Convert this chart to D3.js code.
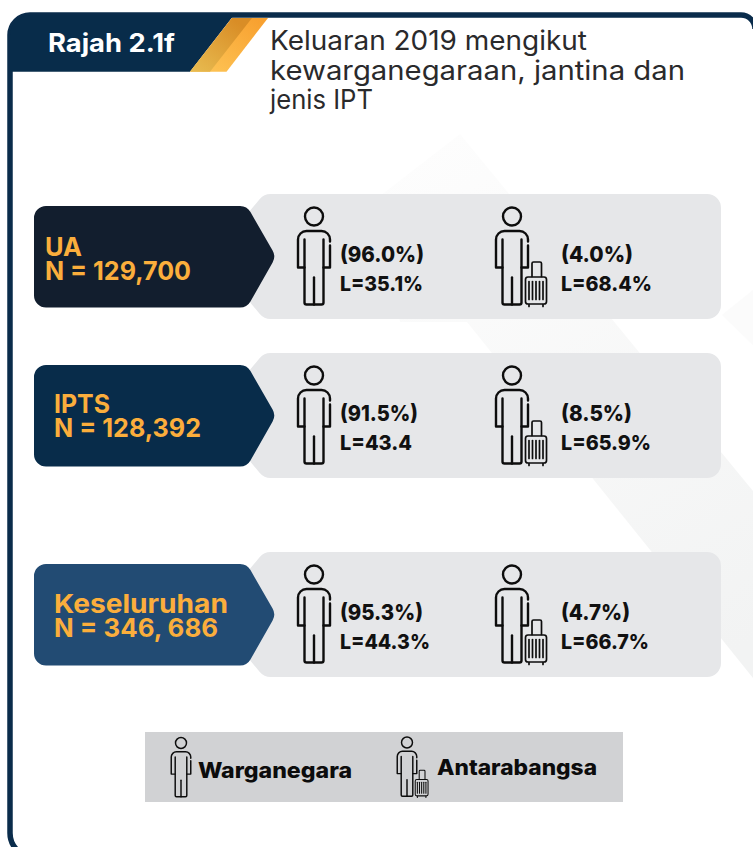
<!DOCTYPE html>
<html>
<head>
<meta charset="utf-8">
<script src="https://d3js.org/d3.v7.min.js"></script>
<style>
    html, body { margin: 0; padding: 0; background: #fff; }
    svg { display: block; }
    text { font-family: Inter, "Open Sans", sans-serif; }
</style>
</head>
<body>
<div id="chart"></div>
<script>
// Values
const programmes = ["UA", "IPTS", "Keseluruhan"];
const totals = ["N = 129,700", "N = 128,392", "N = 346, 686"];
const citizenShare = ["(96.0%)", "(91.5%)", "(95.3%)"];
const citizenMale = ["L=35.1%", "L=43.4", "L=44.3%"];
const foreignShare = ["(4.0%)", "(8.5%)", "(4.7%)"];
const foreignMale = ["L=68.4%", "L=65.9%", "L=66.7%"];
const legendLabels = ["Warganegara", "Antarabangsa"];
const figureTag = "Rajah 2.1f";
const titleLines = ["Keluaran 2019 mengikut", "kewarganegaraan, jantina dan", "jenis IPT"];

// Width each label takes in the original font
const labelWidth = new Map([
    ["Keluaran 2019 mengikut", 317], ["kewarganegaraan, jantina dan", 415], ["jenis IPT", 103],
    ["Rajah 2.1f", 127],
    ["UA", 37], ["IPTS", 56], ["Keseluruhan", 174],
    ["N = 129,700", 146], ["N = 128,392", 147], ["N = 346, 686", 164],
    ["(96.0%)", 84], ["(91.5%)", 78], ["(95.3%)", 83],
    ["L=35.1%", 83], ["L=43.4", 72], ["L=44.3%", 90],
    ["(4.0%)", 72], ["(8.5%)", 71], ["(4.7%)", 69],
    ["L=68.4%", 91], ["L=65.9%", 90], ["L=66.7%", 88],
    ["Warganegara", 154], ["Antarabangsa", 160]
]);

const width = 753;
const height = 847;

const svg = d3.select("#chart")
    .append("svg")
    .attr("width", width)
    .attr("height", height);

// Row and column positions
const rowY = d3.scaleOrdinal().domain(programmes).range([194, 353, 552]);
const tagColor = d3.scaleOrdinal().domain(programmes).range(["#121e2e", "#082c4a", "#224b73"]);
const tagTextX = d3.scaleOrdinal().domain(programmes).range([45, 54, 54]);
const tagTextShift = d3.scaleOrdinal().domain(programmes).range([62, 60, 61]);

const defs = svg.append("defs");

function addGradient(id, x1, y1, x2, y2, stops) {
    const g = defs.append("linearGradient")
        .attr("id", id)
        .attr("gradientUnits", "userSpaceOnUse")
        .attr("x1", x1).attr("y1", y1).attr("x2", x2).attr("y2", y2);
    stops.forEach((c, i) => {
        g.append("stop").attr("offset", i / (stops.length - 1)).attr("stop-color", c);
    });
}
addGradient("goldDark", 232, 18, 190, 72, ["#d98d26", "#e8bd52"]);
addGradient("goldLight", 255, 18, 215, 72, ["#f8a130", "#fdc152"]);
addGradient("band", 450, 130, 753, 640, ["#fdfdfd", "#f2f3f3"]);

// polygon with rounded corners
function roundedPoly(points, r) {
    const p = d3.path();
    const n = points.length;
    const last = points[n - 1];
    const first = points[0];
    p.moveTo((last[0] + first[0]) / 2, (last[1] + first[1]) / 2);
    for (let i = 0; i < n; i++) {
        const a = points[i];
        const b = points[(i + 1) % n];
        p.arcTo(a[0], a[1], b[0], b[1], r);
    }
    p.closePath();
    return p.toString();
}

// squeeze or stretch a label to the width it has in the original
function fit(selection, getText) {
    selection
        .attr("textLength", (d, i) => labelWidth.get(getText(d, i)))
        .attr("lengthAdjust", "spacingAndGlyphs")
        .text(getText);
}

const line = d3.line();

// Faint background bands
svg.append("path")
    .attr("d", line([[460, 134], [753, 491], [753, 678], [467, 322], [400, 322], [380, 196]]) + "Z")
    .attr("fill", "url(#band)");
svg.append("path")
    .attr("d", line([[722, 315], [753, 290], [753, 345]]) + "Z")
    .attr("fill", "#fbfbfb");

// Frame
svg.append("path")
    .attr("d", "M34,857 A24,24 0 0 1 10,833 V35 A20,20 0 0 1 30,15 H741 A14,14 0 0 1 755,29")
    .attr("fill", "none")
    .attr("stroke", "#0a2c4b")
    .attr("stroke-width", 5.5);

// Header tab
svg.append("path")
    .attr("d", "M10,35 A20,20 0 0 1 30,15 H234 L190,71.7 H10 Z")
    .attr("fill", "#082c4a");
svg.append("path")
    .attr("d", line([[232, 18], [268, 18], [226.5, 71.7], [190, 71.7]]) + "Z")
    .attr("fill", "url(#goldLight)");
svg.append("path")
    .attr("d", line([[232, 18], [252, 18], [210, 71.7], [190, 71.7]]) + "Z")
    .attr("fill", "url(#goldDark)");

svg.append("text")
    .attr("x", 48)
    .attr("y", 52)
    .attr("font-size", 25.5)
    .attr("font-weight", 700)
    .attr("fill", "#fff")
    .call(fit, () => figureTag);

svg.selectAll(".title")
    .data(titleLines)
    .enter()
    .append("text")
    .attr("class", "title")
    .attr("x", 270)
    .attr("y", (d, i) => 50 + i * 29.5)
    .attr("font-size", 26.5)
    .attr("fill", "#2a2a2c")
    .call(fit, d => d);

// Person icon, drawn around the centre of the head
function drawPerson(g, withCase) {
    const icon = g.append("g")
        .attr("fill", "none")
        .attr("stroke", "#0d0d0d")
        .attr("stroke-width", 2.4)
        .attr("stroke-linecap", "round")
        .attr("stroke-linejoin", "round");
    icon.append("circle").attr("r", 9);
    icon.append("path")
        .attr("d", "M16,25 V23 A8.5,8.5 0 0 0 7.5,14.5 H-7.5 A8.5,8.5 0 0 0 -16,23 V51 H-9.5");
    icon.append("path").attr("d", "M16,29 V51 H9.5");
    icon.append("path").attr("d", "M-9.5,23 V86 Q-9.5,88 -7.5,88 H7.5 Q9.5,88 9.5,86 V23");
    icon.append("path").attr("d", "M0,61 V88");
    if (withCase) {
        const bag = icon.append("g").attr("stroke-width", 1.7);
        bag.append("rect").attr("x", 13.5).attr("y", 60.5).attr("width", 21).attr("height", 27).attr("rx", 2.5);
        bag.append("path").attr("d", "M20,60 V47 Q20,45.5 21.5,45.5 H28 Q29.5,45.5 29.5,47 V60");
        bag.append("path").attr("d", "M17,88 V90 M31,88 V90");
        d3.range(5).forEach(i => {
            const sx = 17 + i * 3.5;
            bag.append("path").attr("d", `M${sx},65 V83`);
        });
    }
}

// One row per programme
const rows = svg.selectAll(".row")
    .data(programmes)
    .enter()
    .append("g")
    .attr("class", "row")
    .attr("transform", d => `translate(0,${rowY(d)})`);

rows.append("path")
    .attr("d", roundedPoly([[264, 0], [721, 0], [721, 125], [264, 125], [212, 62.5]], 14))
    .attr("fill", "#e6e7e9");

rows.append("path")
    .attr("d", roundedPoly([[34, 12], [247, 12], [276, 62.5], [247, 113.5], [34, 113.5]], 12))
    .attr("fill", d => tagColor(d));

rows.append("text")
    .attr("x", d => tagTextX(d))
    .attr("y", d => tagTextShift(d))
    .attr("font-size", 26)
    .attr("font-weight", 700)
    .attr("fill", "#fbae3c")
    .call(fit, d => d);

rows.append("text")
    .attr("x", d => tagTextX(d))
    .attr("y", d => tagTextShift(d) + 24)
    .attr("font-size", 26)
    .attr("font-weight", 700)
    .attr("fill", "#fbae3c")
    .call(fit, (d, i) => totals[i]);

const columns = [
    { cx: 314, tx: 340, share: citizenShare, male: citizenMale, bag: false },
    { cx: 512, tx: 561, share: foreignShare, male: foreignMale, bag: true }
];

columns.forEach(col => {
    rows.append("g")
        .attr("transform", `translate(${col.cx},22.5)`)
        .each(function () { drawPerson(d3.select(this), col.bag); });

    rows.append("text")
        .attr("x", col.tx)
        .attr("y", 68)
        .attr("font-size", 22)
        .attr("font-weight", 800)
        .attr("fill", "#111")
        .call(fit, (d, i) => col.share[i]);

    rows.append("text")
        .attr("x", col.tx)
        .attr("y", 97)
        .attr("font-size", 20.5)
        .attr("font-weight", 800)
        .attr("fill", "#111")
        .call(fit, (d, i) => col.male[i]);
});

// Legend
svg.append("rect")
    .attr("x", 145)
    .attr("y", 732)
    .attr("width", 478)
    .attr("height", 70)
    .attr("fill", "#d1d2d4");

const legend = [
    { cx: 181, cy: 743, tx: 198, ty: 778, bag: false },
    { cx: 407, cy: 742.5, tx: 437, ty: 775, bag: true }
];

legend.forEach((item, i) => {
    svg.append("g")
        .attr("transform", `translate(${item.cx},${item.cy}) scale(0.61)`)
        .each(function () { drawPerson(d3.select(this), item.bag); });
    svg.append("text")
        .attr("x", item.tx)
        .attr("y", item.ty)
        .attr("font-size", 21.5)
        .attr("font-weight", 800)
        .attr("fill", "#0c0c0c")
        .call(fit, () => legendLabels[i]);
});
</script>
</body>
</html>
